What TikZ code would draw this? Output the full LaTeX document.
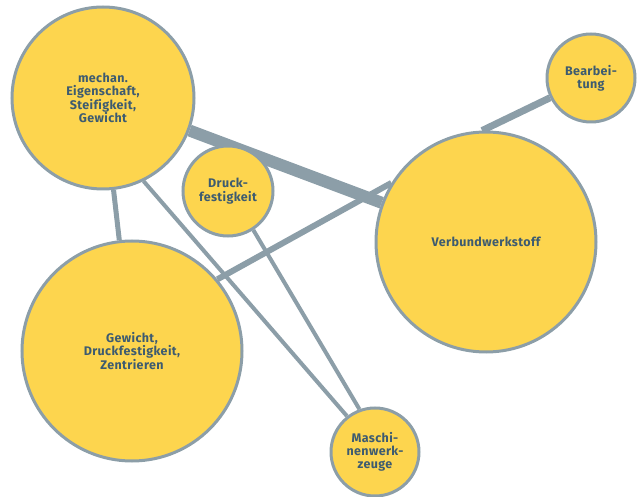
\documentclass[tikz,border=0pt]{standalone}
\usepackage{fontspec}
\setmainfont[Ligatures=NoCommon,LetterSpace=3]{Fira Sans}
\usetikzlibrary{backgrounds}
\definecolor{cfill}{HTML}{FDD54E}
\definecolor{cline}{HTML}{8C9EA8}
\definecolor{ctext}{HTML}{3D5B70}
\tikzset{
  bubble/.style={circle, draw=cline, line width=3pt, fill=cfill, inner sep=0pt,
    text=ctext, font=\bfseries\fontsize{12.5}{13.3}\selectfont, align=center},
  link/.style={draw=cline, line cap=butt},
}
\begin{document}
\begin{tikzpicture}[x=1pt,y=-1pt]
\useasboundingbox (0,0) rectangle (638,497);
% nodes
\node[bubble, minimum size=182pt] (mech) at (103,98) {mechan.\\Eigenschaft,\\Steifigkeit,\\Gewicht};
\node[bubble, minimum size=88pt] (bear) at (591,78) {Bearbei-\\tung};
\node[bubble, minimum size=90pt] (druck) at (228,191) {Druck-\\festigkeit};
\node[bubble, minimum size=220pt] (verb) at (486,242) {Verbundwerkstoff};
\node[bubble, minimum size=220pt] (gew) at (132,351) {Gewicht,\\Druckfestigkeit,\\Zentrieren};
\node[bubble, minimum size=88pt] (masch) at (375,452) {Maschi-\\nenwerk-\\zeuge};
% connectors behind
\begin{pgfonlayer}{background}
\draw[link, line width=12pt] (mech) -- (verb);
\draw[link, line width=7pt] (bear) -- (verb.92);
\draw[link, line width=6pt] (gew.40) -- (verb.148);
\draw[link, line width=5pt] (mech) -- (gew);
\draw[link, line width=4pt] (mech.-64) -- (masch.128);
\draw[link, line width=4pt] (druck.-57) -- (masch.110);
\end{pgfonlayer}
\end{tikzpicture}
\end{document}
